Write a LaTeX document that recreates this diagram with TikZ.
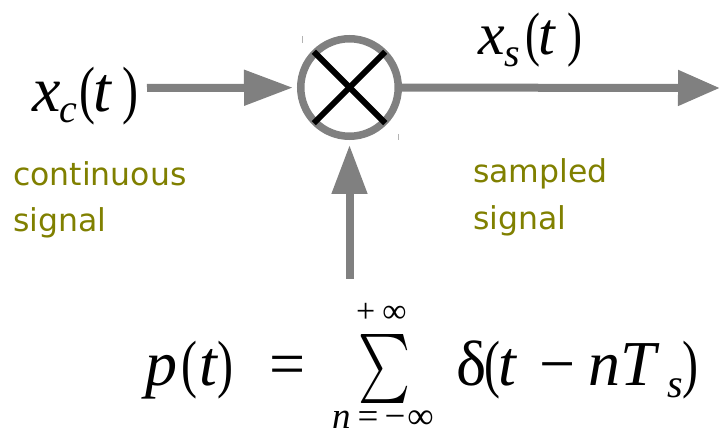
\documentclass[tikz,border=0pt]{standalone}
\usepackage{fontspec}
\usepackage{graphicx}
\usetikzlibrary{arrows.meta}
\newfontfamily\mfont{Liberation Serif}
\newfontfamily\lblfont{DejaVu Sans}
\definecolor{sgray}{HTML}{808080}
\definecolor{solive}{HTML}{808000}
\tikzset{
  sig/.style={draw=sgray, line width=8pt, -{Triangle[length=49pt,width=34pt]}},
  crossline/.style={draw=black, line width=6pt, shorten <=2pt, shorten >=2pt},
  mathbig/.style={inner sep=0pt, anchor=base west, font=\mfont\fontsize{64}{64}\selectfont},
  mathmid/.style={inner sep=0pt, anchor=base west, font=\mfont\fontsize{60}{60}\selectfont},
  mathlim/.style={inner sep=0pt, anchor=base west, text depth=0pt, font=\mfont\fontsize{37}{37}\selectfont},
  lbl/.style={inner sep=0pt, anchor=base west, text=solive, font=\lblfont\fontsize{31.5}{31.5}\selectfont},
  tick/.style={draw=sgray!60, line width=1pt}
}
\newcommand{\subsc}[2]{\raisebox{-#1}{\fontsize{40}{40}\selectfont\textit{#2}}}
\newcommand{\lpar}{\scalebox{0.75}[1]{(}}
\newcommand{\rpar}{\scalebox{0.75}[1]{)}}
\begin{document}
\begin{tikzpicture}[x=1pt,y=-1pt]
\useasboundingbox (0,0) rectangle (720,435);
% multiplier
\node[circle, draw=sgray, line width=7.5pt, minimum size=97.5pt, inner sep=0pt] (mult) at (349.5,87.5) {};
\draw[crossline] (mult.north west) -- (mult.south east);
\draw[crossline] (mult.north east) -- (mult.south west);
% small tick marks
\coordinate (t1a) at (302,36); \coordinate (t1b) at (302,43);
\coordinate (t2a) at (398,134); \coordinate (t2b) at (398,140);
\draw[tick] (t1a) -- (t1b);
\draw[tick] (t2a) -- (t2b);
% signals
\node[mathbig] (xc) at (32,112) {\textit{x}\kern-1pt\subsc{11pt}{c}\kern2.5pt\lpar\kern-2.7pt\textit{t}\kern10pt\rpar};
\node[mathmid] (xs) at (478,55) {\textit{x}\kern0pt\subsc{12pt}{s}\kern4.6pt\lpar\kern-1.8pt\textit{t}\kern11pt\rpar};
\coordinate (in) at (147,88);
\coordinate (out) at (720,88);
\coordinate (pin) at (349.5,279);
\draw[sig, shorten >=4pt] (in) -- (mult);
\draw[sig, -{Triangle[length=42pt,width=34pt]}] (mult) -- (out);
\draw[sig, shorten >=5pt] (pin) -- (mult);
% labels
\node[lbl] (cont1) at (13,186) {continuous};
\node[lbl] (cont2) at (13,232) {signal};
\node[lbl] (samp1) at (473,183) {sampled};
\node[lbl] (samp2) at (473,230) {signal};
% formula
\node[mathbig] (pt) at (145,385) {\textit{p}\kern4pt\lpar\kern2.5pt\textit{t}\kern-1pt\rpar\kern36pt=};
\node[inner sep=0pt, anchor=north west] (sum) at (358,334) {\resizebox*{52pt}{69pt}{$\sum$}};
\node[mathlim, font=\mfont\fontsize{34}{34}\selectfont] (up) at (356,323) {+\kern7pt∞};
\node[mathlim] (low) at (332,428) {\textit{n}\kern7pt=\kern6pt−\kern2pt∞};
\node[mathbig] (delta) at (456,385) {δ\kern-2pt\lpar\kern-1.7pt\textit{t}\kern22pt−\kern13pt\textit{n}\kern0pt\textit{T}\kern7pt\subsc{12pt}{s}\kern0pt\rpar};
\end{tikzpicture}
\end{document}
